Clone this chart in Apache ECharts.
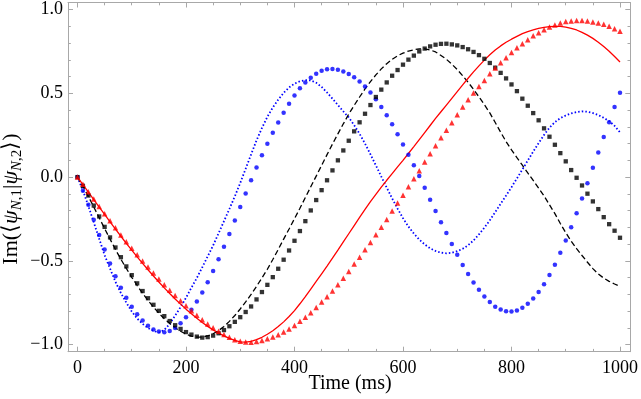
<!DOCTYPE html>
<html>
<head>
<meta charset="utf-8">
<script src="https://cdn.jsdelivr.net/npm/echarts@6/dist/echarts.min.js"></script>
<style>
html,body{margin:0;padding:0;background:#fff;}
#chart{width:641px;height:399px;}
</style>
</head>
<body>
<div id="chart"></div>
<script>
// Sample times (ms)
const timeMs = [0,10,20,30,40,50,60,70,80,90,100,110,120,130,140,150,160,170,180,190,200,210,220,230,240,250,260,270,280,290,300,310,320,330,340,350,360,370,380,390,400,410,420,430,440,450,460,470,480,490,500,510,520,530,540,550,560,570,580,590,600,610,620,630,640,650,660,670,680,690,700,710,720,730,740,750,760,770,780,790,800,810,820,830,840,850,860,870,880,890,900,910,920,930,940,950,960,970,980,990,1000];

// Blue dotted line
const blueDotted = [0,-0.080,-0.172,-0.270,-0.368,-0.466,-0.546,-0.625,-0.692,-0.749,-0.802,-0.844,-0.876,-0.901,-0.918,-0.927,-0.912,-0.876,-0.826,-0.776,-0.720,-0.660,-0.602,-0.538,-0.473,-0.408,-0.336,-0.263,-0.190,-0.115,-0.035,0.050,0.135,0.219,0.293,0.360,0.415,0.462,0.503,0.535,0.558,0.572,0.579,0.577,0.563,0.538,0.505,0.468,0.430,0.392,0.356,0.310,0.258,0.200,0.136,0.070,0.003,-0.063,-0.127,-0.188,-0.245,-0.295,-0.337,-0.373,-0.402,-0.425,-0.441,-0.451,-0.455,-0.452,-0.442,-0.428,-0.407,-0.378,-0.342,-0.302,-0.258,-0.209,-0.159,-0.110,-0.060,-0.008,0.045,0.099,0.152,0.203,0.252,0.295,0.328,0.352,0.368,0.380,0.388,0.392,0.390,0.382,0.370,0.354,0.334,0.306,0.267];

// Blue circles
const blueDots = [0,-0.082,-0.165,-0.255,-0.345,-0.432,-0.515,-0.592,-0.660,-0.720,-0.773,-0.818,-0.856,-0.887,-0.909,-0.922,-0.926,-0.918,-0.900,-0.872,-0.836,-0.792,-0.742,-0.688,-0.627,-0.561,-0.490,-0.416,-0.339,-0.259,-0.178,-0.098,-0.019,0.058,0.131,0.199,0.264,0.326,0.384,0.438,0.487,0.530,0.565,0.593,0.617,0.634,0.643,0.645,0.640,0.630,0.615,0.596,0.571,0.541,0.505,0.464,0.418,0.369,0.315,0.256,0.195,0.134,0.071,0.006,-0.064,-0.135,-0.203,-0.269,-0.334,-0.400,-0.464,-0.524,-0.579,-0.629,-0.673,-0.713,-0.746,-0.773,-0.790,-0.800,-0.802,-0.796,-0.780,-0.756,-0.724,-0.686,-0.639,-0.585,-0.523,-0.452,-0.378,-0.300,-0.215,-0.127,-0.036,0.056,0.147,0.239,0.328,0.418,0.504];

// Black dashed line
const blackDashed = [0,-0.055,-0.115,-0.178,-0.243,-0.307,-0.370,-0.432,-0.490,-0.545,-0.598,-0.647,-0.693,-0.736,-0.776,-0.812,-0.845,-0.874,-0.899,-0.920,-0.937,-0.949,-0.955,-0.955,-0.948,-0.935,-0.916,-0.891,-0.861,-0.826,-0.787,-0.745,-0.700,-0.652,-0.602,-0.550,-0.492,-0.432,-0.370,-0.310,-0.248,-0.186,-0.122,-0.058,0.006,0.070,0.134,0.197,0.258,0.318,0.376,0.428,0.478,0.526,0.570,0.610,0.646,0.677,0.703,0.724,0.740,0.752,0.760,0.765,0.765,0.759,0.747,0.726,0.703,0.674,0.642,0.605,0.566,0.524,0.479,0.432,0.383,0.326,0.268,0.212,0.162,0.116,0.071,0.025,-0.020,-0.066,-0.112,-0.165,-0.218,-0.277,-0.332,-0.382,-0.427,-0.468,-0.508,-0.546,-0.578,-0.603,-0.622,-0.638,-0.652];

// Black squares
const blackSquares = [0,-0.052,-0.110,-0.170,-0.235,-0.297,-0.360,-0.420,-0.478,-0.533,-0.585,-0.634,-0.680,-0.723,-0.762,-0.798,-0.830,-0.859,-0.884,-0.906,-0.925,-0.940,-0.952,-0.958,-0.955,-0.946,-0.932,-0.913,-0.890,-0.864,-0.836,-0.805,-0.772,-0.730,-0.686,-0.643,-0.597,-0.547,-0.493,-0.438,-0.380,-0.322,-0.263,-0.199,-0.137,-0.078,-0.019,0.040,0.100,0.159,0.217,0.273,0.327,0.378,0.430,0.478,0.522,0.565,0.605,0.639,0.671,0.701,0.725,0.750,0.767,0.780,0.790,0.795,0.796,0.792,0.786,0.776,0.763,0.747,0.728,0.706,0.681,0.653,0.622,0.589,0.553,0.513,0.468,0.426,0.382,0.339,0.291,0.241,0.193,0.143,0.094,0.042,-0.004,-0.050,-0.099,-0.145,-0.191,-0.239,-0.281,-0.320,-0.362];

// Red solid line
const redSolid = [0,-0.045,-0.090,-0.135,-0.179,-0.223,-0.267,-0.310,-0.353,-0.395,-0.436,-0.476,-0.515,-0.553,-0.590,-0.626,-0.661,-0.695,-0.727,-0.758,-0.788,-0.816,-0.843,-0.868,-0.891,-0.912,-0.931,-0.948,-0.963,-0.975,-0.983,-0.985,-0.980,-0.970,-0.956,-0.938,-0.917,-0.892,-0.864,-0.832,-0.797,-0.756,-0.713,-0.668,-0.623,-0.577,-0.531,-0.484,-0.436,-0.387,-0.338,-0.289,-0.240,-0.193,-0.147,-0.103,-0.060,-0.019,0.021,0.061,0.100,0.141,0.182,0.224,0.266,0.308,0.350,0.390,0.430,0.470,0.510,0.550,0.590,0.628,0.664,0.698,0.730,0.758,0.783,0.805,0.823,0.840,0.856,0.868,0.878,0.887,0.893,0.898,0.900,0.899,0.895,0.888,0.878,0.864,0.847,0.828,0.805,0.779,0.751,0.720,0.687];

// Red triangles
const redTriangles = [0,-0.043,-0.087,-0.131,-0.175,-0.218,-0.261,-0.303,-0.345,-0.386,-0.425,-0.463,-0.500,-0.537,-0.573,-0.608,-0.642,-0.675,-0.707,-0.738,-0.768,-0.797,-0.825,-0.851,-0.876,-0.899,-0.920,-0.939,-0.956,-0.970,-0.979,-0.984,-0.985,-0.981,-0.975,-0.965,-0.955,-0.941,-0.925,-0.907,-0.885,-0.861,-0.836,-0.810,-0.778,-0.746,-0.714,-0.680,-0.643,-0.603,-0.563,-0.519,-0.478,-0.434,-0.390,-0.344,-0.299,-0.253,-0.203,-0.155,-0.109,-0.058,-0.010,0.038,0.090,0.140,0.187,0.235,0.279,0.325,0.372,0.418,0.462,0.502,0.540,0.577,0.617,0.651,0.683,0.713,0.743,0.772,0.796,0.820,0.844,0.862,0.880,0.896,0.907,0.919,0.928,0.932,0.934,0.934,0.932,0.926,0.919,0.912,0.900,0.886,0.870];

// Ticks
const xMajorTicks = [0,200,400,600,800,1000];
const xMinorTicks = [50,100,150,250,300,350,450,500,550,650,700,750,850,900,950];
const xTickLabels = ['0','200','400','600','800','1000'];
const yMajorTicks = [-1,-0.5,0,0.5,1];
const yMinorTicks = [-0.9,-0.8,-0.7,-0.6,-0.4,-0.3,-0.2,-0.1,0.1,0.2,0.3,0.4,0.6,0.7,0.8,0.9];
const yTickLabels = ['\u22121.0','\u22120.5','0.0','0.5','1.0'];

const FONT = 'Liberation Serif';
const FRAME = '#a8a8a8';

function pairs(vals){ return timeMs.map((t,i)=>[t, vals[i]]); }

const X_MIN = -17.5, X_MAX = 1019, Y_MIN = -1.042, Y_MAX = 1.042;

function xAx(pos, ticks, len, labels, line){
  return {
    type:'value', position:pos, min:X_MIN, max:X_MAX,
    axisLine:{show:line, onZero:false, lineStyle:{color:FRAME, width:1}},
    axisTick:{show:true, inside:true, length:len, customValues:ticks, lineStyle:{color:FRAME, width:1}},
    axisLabel:{show:labels, customValues:ticks, margin:8, color:'#000', fontFamily:FONT, fontSize:18,
      formatter:function(v){ const i = xMajorTicks.indexOf(v); return i>=0 ? xTickLabels[i] : ''; }},
    splitLine:{show:false}
  };
}
function yAx(pos, ticks, len, labels, line){
  return {
    type:'value', position:pos, min:Y_MIN, max:Y_MAX,
    axisLine:{show:line, onZero:false, lineStyle:{color:FRAME, width:1}},
    axisTick:{show:true, inside:true, length:len, customValues:ticks, lineStyle:{color:FRAME, width:1}},
    axisLabel:{show:labels, customValues:ticks, margin:5, color:'#000', fontFamily:FONT, fontSize:18,
      formatter:function(v){ let i=-1; yMajorTicks.forEach((m,k)=>{ if(Math.abs(m-v)<1e-9) i=k; }); return i>=0 ? yTickLabels[i] : ''; }},
    splitLine:{show:false}
  };
}

const chart = echarts.init(document.getElementById('chart'), null, {renderer:'canvas'});
chart.setOption({
  animation:false,
  backgroundColor:'#fff',
  grid:{left:68, right:8.5, top:2.5, bottom:47.3, containLabel:false},
  xAxis:[
    xAx('bottom', xMajorTicks, 5, true, true),
    xAx('bottom', xMinorTicks, 2.8, false, false),
    xAx('top', xMajorTicks, 5, false, true),
    xAx('top', xMinorTicks, 2.8, false, false)
  ],
  yAxis:[
    yAx('left', yMajorTicks, 5, true, true),
    yAx('left', yMinorTicks, 2.8, false, false),
    yAx('right', yMajorTicks, 5, false, true),
    yAx('right', yMinorTicks, 2.8, false, false)
  ],
  graphic:[
    {type:'text', x:350, y:384, style:{text:'Time (ms)', fontFamily:FONT, fontSize:20, fill:'#000', align:'center', verticalAlign:'middle'}},
    {type:'text', x:11, y:199, rotation:Math.PI/2, style:{
      text:'{a|Im(\u27E8}{i|\u03C8}{si|N}{s|,1}{a||}{i|\u03C8}{si|N}{s|,2}{a|\u27E9)}',
      align:'center', verticalAlign:'middle', fill:'#000',
      rich:{
        a:{fontFamily:FONT, fontSize:22, lineHeight:28, verticalAlign:'middle'},
        i:{fontFamily:FONT, fontSize:22, fontStyle:'italic', lineHeight:28, verticalAlign:'middle'},
        si:{fontFamily:FONT, fontSize:15, fontStyle:'italic', lineHeight:15, verticalAlign:'bottom'},
        s:{fontFamily:FONT, fontSize:15, lineHeight:15, verticalAlign:'bottom'}
      }}}
  ],
  series:[
    {type:'line', data:pairs(blueDotted), showSymbol:false, symbol:'none', lineStyle:{color:'#0000ff', width:1.8, type:[1.5,2.1]}, z:2},
    {type:'scatter', data:pairs(blueDots), symbol:'circle', symbolSize:4.5, itemStyle:{color:'#0000ff'}, z:3},
    {type:'line', data:pairs(blackDashed), showSymbol:false, symbol:'none', lineStyle:{color:'#000', width:1.3, type:[5.5,3]}, z:2},
    {type:'scatter', data:pairs(blackSquares), symbol:'rect', symbolSize:4.3, itemStyle:{color:'#000'}, z:3},
    {type:'line', data:pairs(redSolid), showSymbol:false, symbol:'none', lineStyle:{color:'#ff0000', width:1.3}, z:2},
    {type:'scatter', data:pairs(redTriangles), symbol:'triangle', symbolSize:5.5, itemStyle:{color:'#ff0000'}, z:3}
  ]
});
</script>
</body>
</html>
